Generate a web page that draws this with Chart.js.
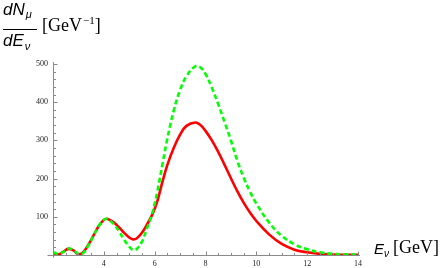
<!DOCTYPE html>
<html lang="en">
  <head>
    <meta charset="UTF-8" />
    <title>Muon spectrum</title>
    <style>
      html, body { margin: 0; padding: 0; background: #fff; }
    </style>
  </head>
  <body>
    <canvas id="myChart" width="446" height="268"></canvas>
    <script src="https://cdn.jsdelivr.net/npm/chart.js"></script>
    <script>
      // E_nu in GeV
      const energies = [2, 2.2, 2.4, 2.6, 2.8, 3, 3.2, 3.4, 3.6, 3.8, 4, 4.1, 4.2, 4.4, 4.6, 4.8, 5, 5.15, 5.3, 5.5,
        5.7, 5.9, 6.1, 6.3, 6.5, 6.75, 7, 7.25, 7.6, 7.8, 8, 8.25, 8.5, 8.75, 9, 9.25, 9.5, 9.75, 10,
        10.5, 11, 11.5, 12, 12.5, 13, 13.5, 14];
      // red solid curve
      const redValues = [4, 1, 8, 16, 12, 2, 8, 28, 52, 76, 92, 95, 93, 85, 72, 58, 46, 41, 44, 58,
        80, 105, 140, 190, 236, 280, 315, 338, 347, 340, 325, 300, 270, 236, 201, 167, 137, 111, 89,
        54, 29, 14, 7, 3, 1, 0.5, 0.3];
      // green dashed curve
      const greenValues = [7, 3, 8, 17, 13, 3, 6, 26, 51, 76, 92, 95, 92, 80, 62, 40, 22, 13, 16, 35,
        70, 108, 165, 235, 305, 378, 432, 468, 494, 491, 474, 438, 395, 348, 300, 247, 203, 166, 135,
        85, 50, 28, 15, 7, 3, 1.5, 1];
      const xTickLabels = [4, 6, 8, 10, 12, 14];
      const yTickLabels = [100, 200, 300, 400, 500];

      const toPoints = (ys) => energies.map((x, i) => ({ x: x, y: ys[i] }));

      // Mathematica style axes: ticks point inward, titles at the axis ends
      const axesPlugin = {
        id: 'axesPlugin',
        afterDraw(chart) {
          const ctx = chart.ctx;
          const xs = chart.scales.x;
          const ys = chart.scales.y;
          const x0 = Math.round(xs.getPixelForValue(2)) + 0.5;
          const y0 = Math.round(ys.getPixelForValue(0)) + 0.5;
          ctx.save();
          ctx.strokeStyle = '#8a8a8a';
          ctx.lineWidth = 1;
          ctx.beginPath();
          ctx.moveTo(x0 - 6, y0);
          ctx.lineTo(xs.getPixelForValue(14) + 2, y0);
          ctx.moveTo(x0, ys.getPixelForValue(505));
          ctx.lineTo(x0, y0 + 2);
          for (let v = 2.5; v <= 14; v += 0.5) {
            const px = Math.round(xs.getPixelForValue(v)) + 0.5;
            const len = v % 2 === 0 ? 4 : 2.5;
            ctx.moveTo(px, y0);
            ctx.lineTo(px, y0 - len);
          }
          for (let v = 20; v <= 500; v += 20) {
            const py = Math.round(ys.getPixelForValue(v)) + 0.5;
            const len = v % 100 === 0 ? 4 : 2.5;
            ctx.moveTo(x0, py);
            ctx.lineTo(x0 + len, py);
          }
          ctx.stroke();

          ctx.fillStyle = '#000';
          ctx.textBaseline = 'alphabetic';
          ctx.textAlign = 'left';
          const sans = '"Liberation Sans", Arial, sans-serif';
          const serif = '"Liberation Serif", "Times New Roman", serif';

          // y title: dN_mu / dE_nu [GeV^-1]
          ctx.font = 'italic 17px ' + sans;
          ctx.fillText('dN', 3, 15);
          let w = ctx.measureText('dN').width;
          ctx.font = 'italic 11px ' + sans;
          ctx.fillText('\u03bc', 3 + w + 1, 18);
          ctx.fillRect(3, 29, 34, 1);
          ctx.font = 'italic 17px ' + sans;
          ctx.fillText('dE', 3, 46);
          w = ctx.measureText('dE').width;
          ctx.font = 'italic 11px ' + sans;
          ctx.fillText('\u03bd', 3 + w + 1, 50);

          let cx = 42;
          ctx.font = '18px ' + serif;
          ctx.fillText('[GeV', cx, 31);
          cx += ctx.measureText('[GeV').width;
          ctx.font = '11px ' + serif;
          ctx.fillText('\u22121', cx + 1, 24);
          cx += ctx.measureText('\u22121').width + 1;
          ctx.font = '18px ' + serif;
          ctx.fillText(']', cx, 31);

          // x title: E_nu [GeV]
          ctx.font = 'italic 15px ' + sans;
          ctx.fillText('E', 374, 254);
          w = ctx.measureText('E').width;
          ctx.font = 'italic 10px ' + sans;
          ctx.fillText('\u03bd', 374 + w, 257);
          ctx.font = '18px ' + serif;
          ctx.fillText('[GeV]', 393, 253);
          ctx.restore();
        },
      };

      const tickFont = { family: '"Liberation Serif", "Times New Roman", serif', size: 8 };

      const config = {
        type: 'line',
        data: {
          datasets: [
            {
              label: 'green',
              data: toPoints(greenValues),
              borderColor: 'rgb(0,255,0)',
              borderWidth: 2.6,
              borderDash: [5, 3],
              pointRadius: 0,
              tension: 0.4,
              order: 0,
            },
            {
              label: 'red',
              data: toPoints(redValues),
              borderColor: 'rgb(255,0,0)',
              borderWidth: 2.6,
              pointRadius: 0,
              tension: 0.4,
              order: 1,
            },
          ],
        },
        options: {
          responsive: false,
          animation: false,
          devicePixelRatio: 1,
          layout: { padding: { top: 64, right: 88, left: 0, bottom: 0 } },
          plugins: { legend: { display: false }, tooltip: { enabled: false } },
          scales: {
            x: {
              type: 'linear',
              min: 2,
              max: 14,
              afterFit: (s) => { s.height = 13; },
              afterBuildTicks: (s) => { s.ticks = xTickLabels.map((v) => ({ value: v })); },
              grid: { display: false, drawTicks: false },
              border: { display: false },
              ticks: { font: tickFont, color: '#222', padding: 4, maxRotation: 0, autoSkip: false },
            },
            y: {
              type: 'linear',
              min: 0,
              max: 500,
              afterFit: (s) => { s.width = 53; },
              afterBuildTicks: (s) => { s.ticks = yTickLabels.map((v) => ({ value: v })); },
              grid: { display: false, drawTicks: false },
              border: { display: false },
              ticks: { font: tickFont, color: '#222', padding: 5, autoSkip: false },
            },
          },
        },
        plugins: [axesPlugin],
      };

      new Chart(document.getElementById('myChart'), config);
    </script>
  </body>
</html>
